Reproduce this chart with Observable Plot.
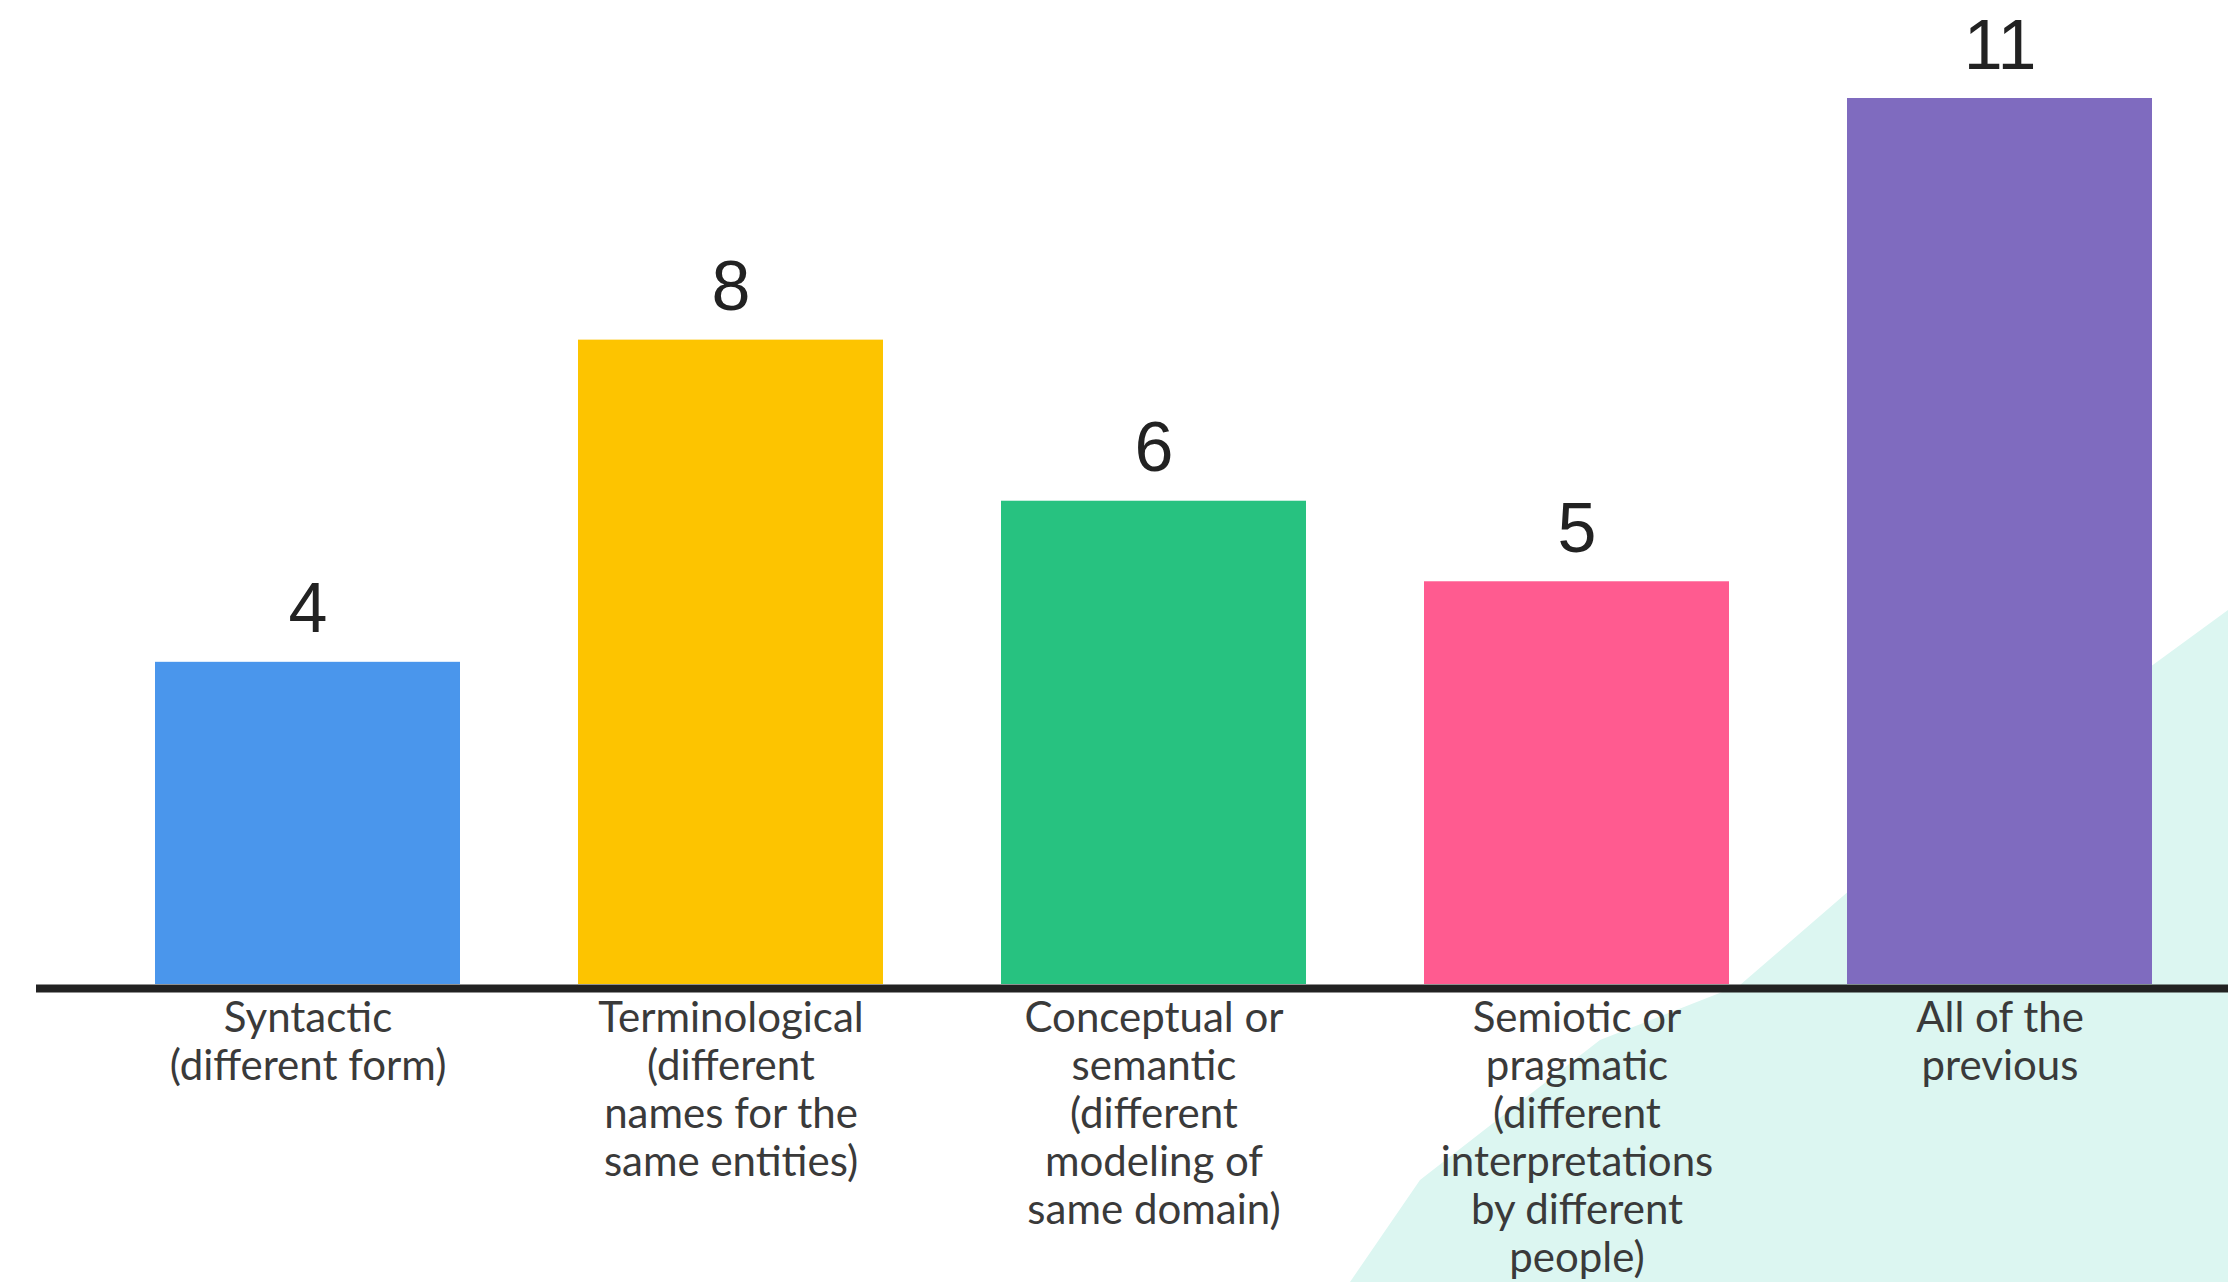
<!DOCTYPE html>
<html><head><meta charset="utf-8">
<script src="https://cdn.jsdelivr.net/npm/d3@7"></script>
<script src="https://cdn.jsdelivr.net/npm/@observablehq/plot@0.6"></script>
<style>
html,body{margin:0;padding:0;background:#fff;}
#wrap{position:relative;width:2228px;height:1282px;overflow:hidden;background:#fff;}
#mint{position:absolute;inset:0;background:#dcf6f1;clip-path:polygon(1350px 1282px,1420px 1180px,1600px 1040px,1740px 985px,1850px 890px,2150px 667px,2228px 610px,2228px 1282px);}
#chart{position:absolute;left:0;top:0;}
</style></head>
<body><div id="wrap"><div id="mint"></div><div id="chart"></div></div>
<script>
const categories = ["Syntactic", "Terminological", "Conceptual or semantic", "Semiotic or pragmatic", "All of the previous"];
const labels = [
  "Syntactic\n(different form)",
  "Terminological\n(different\nnames for the\nsame entities)",
  "Conceptual or\nsemantic\n(different\nmodeling of\nsame domain)",
  "Semiotic or\npragmatic\n(different\ninterpretations\nby different\npeople)",
  "All of the\nprevious"
];
const values = [4, 8, 6, 5, 11];
const colors = ["#4a96ec", "#fdc400", "#27c280", "#ff5b90", "#7f6bbf"];

const data = categories.map((c, i) => ({category: c, label: labels[i], value: values[i], color: colors[i]}));

const chart = Plot.plot({
  width: 2228,
  height: 1282,
  marginTop: 98,
  marginBottom: 298,
  marginLeft: 36,
  marginRight: 0,
  style: {background: "transparent", overflow: "visible"},
  x: {domain: categories, paddingInner: 0.28, paddingOuter: 0.231, align: 0.609, axis: null},
  y: {domain: [0, 11], axis: null},
  color: {type: "identity"},
  marks: [
    Plot.barY(data, {x: "category", y: "value", fill: "color"}),
    Plot.ruleY([0], {stroke: "#222", strokeWidth: 8, dy: 4}),
    Plot.text(data, {x: "category", y: "value", text: d => String(d.value), dy: -30, lineAnchor: "bottom",
      fontSize: 70, fontFamily: "Liberation Sans, Arial, sans-serif", fill: "#222"}),
    Plot.text(data, {x: "category", y: 0, text: "label", lineAnchor: "top", dy: 13, fontSize: 42, lineHeight: 1.143,
      fontFamily: "Lato, sans-serif", fill: "#3a3a3a"})
  ]
});
document.getElementById("chart").appendChild(chart);
</script>
</body></html>
